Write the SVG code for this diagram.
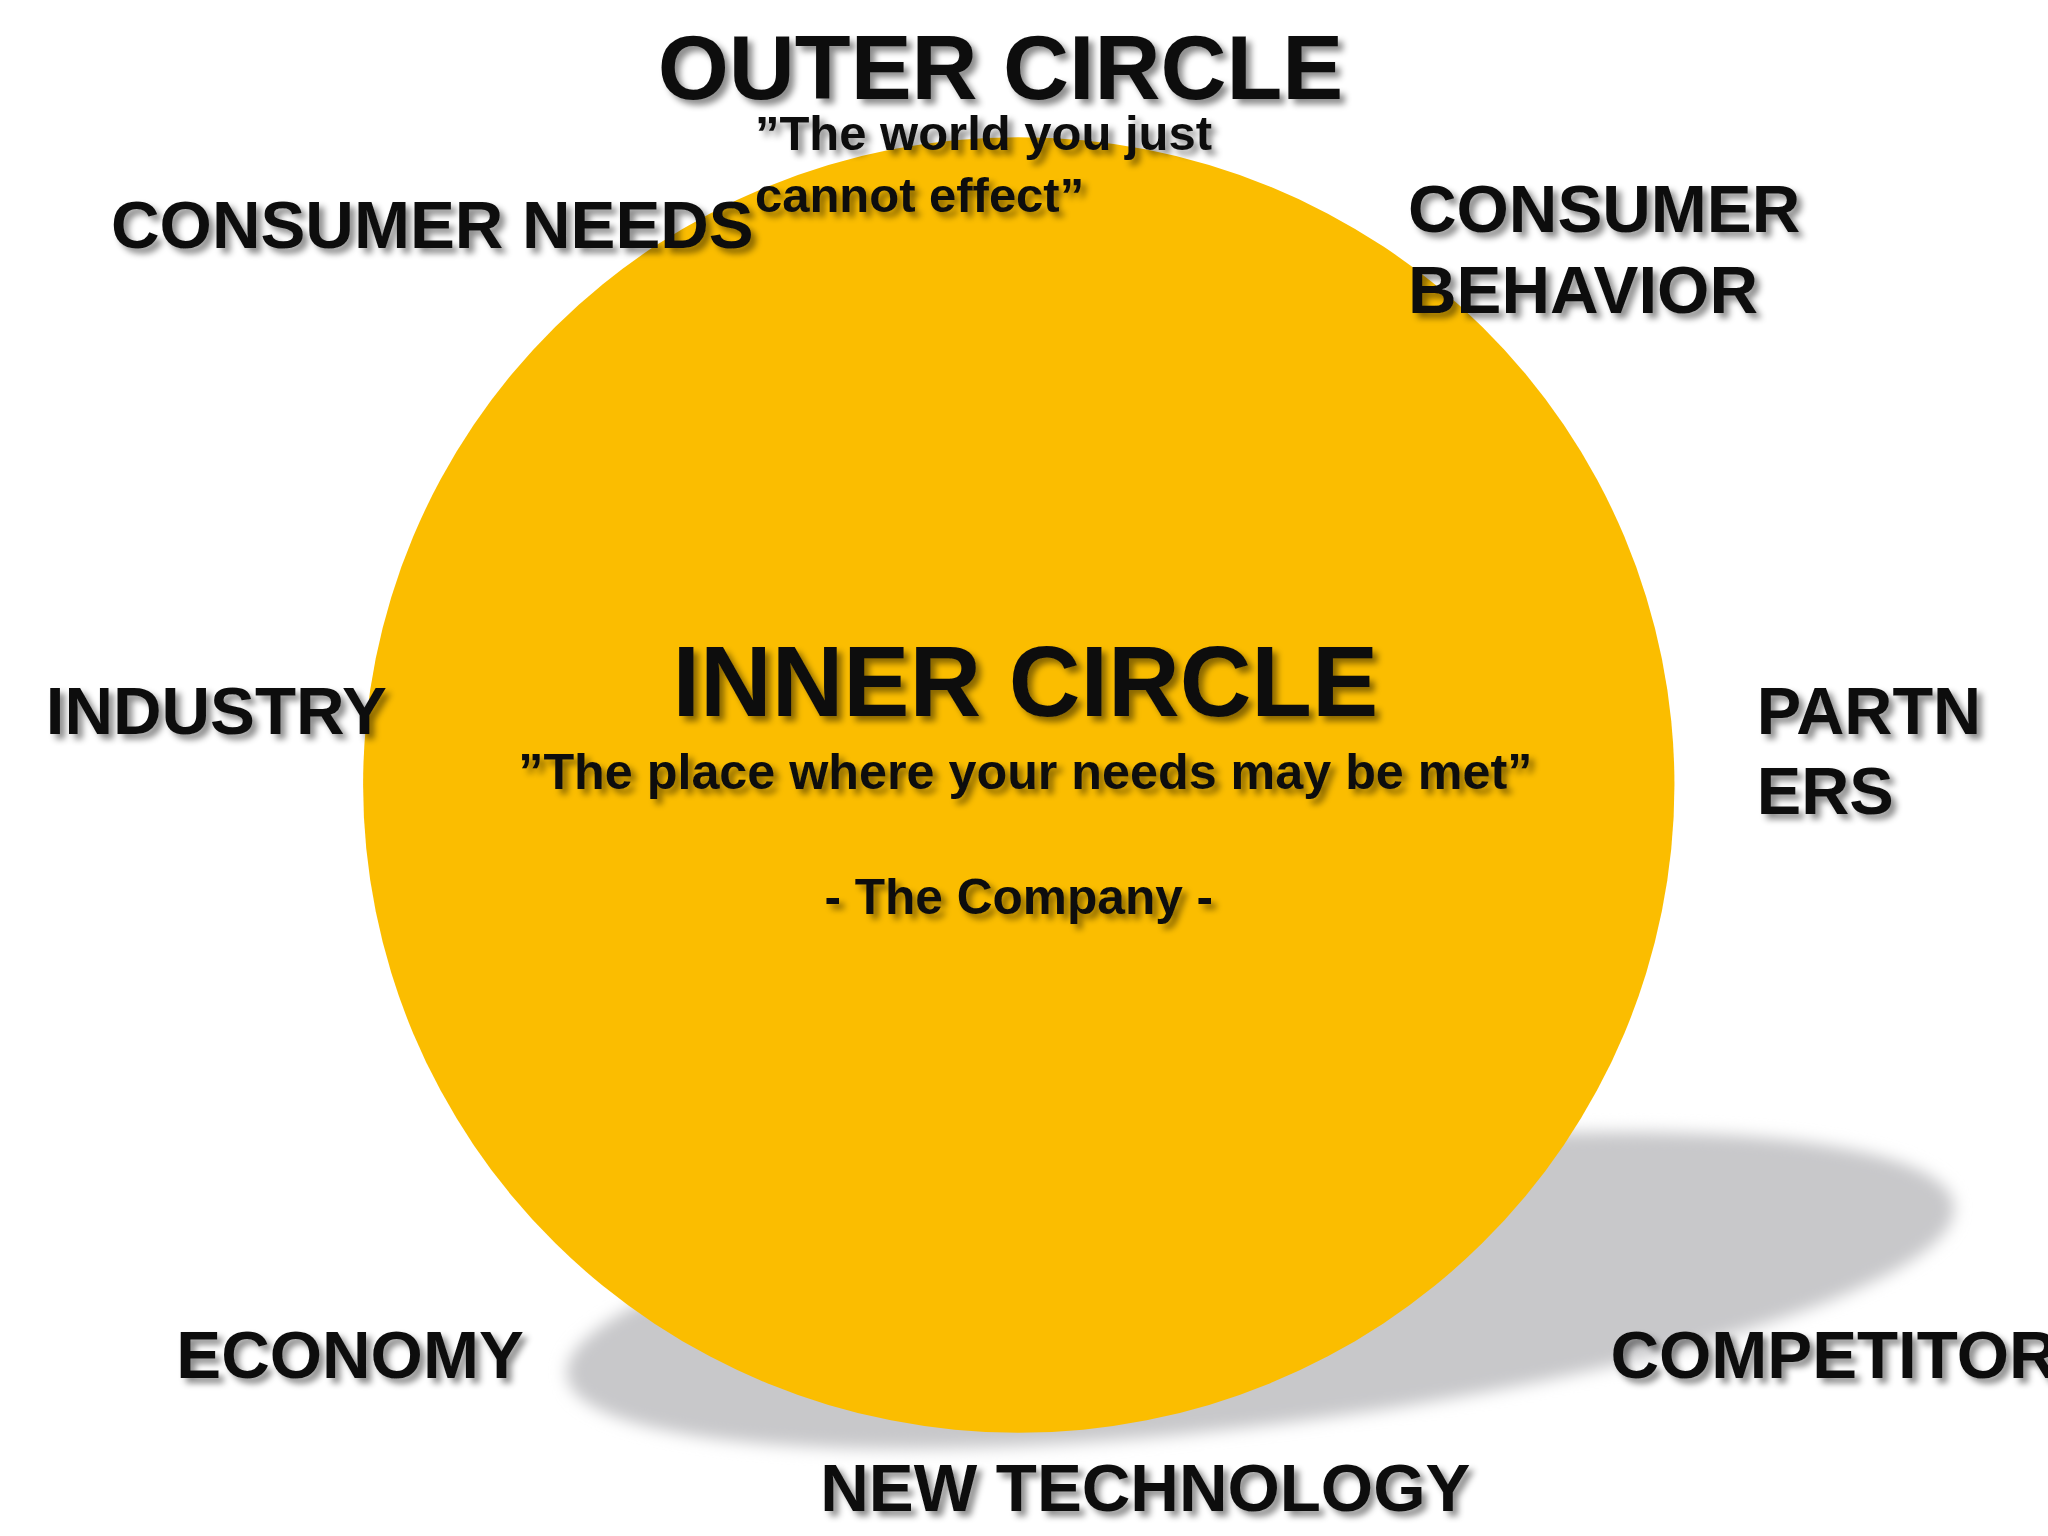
<svg xmlns="http://www.w3.org/2000/svg" width="2048" height="1536" viewBox="0 0 2048 1536">
<defs>
<filter id="ts" x="-10%" y="-30%" width="130%" height="180%"><feDropShadow dx="4" dy="4" stdDeviation="2.5" flood-color="#000" flood-opacity="0.45"/></filter>
<filter id="blur"><feGaussianBlur stdDeviation="6"/></filter>
<style>text{font-family:"Liberation Sans",Arial,sans-serif;font-weight:bold;fill:#111;filter:url(#ts)}</style>
</defs>
<rect width="2048" height="1536" fill="#fff"/>
<g transform="scale(1.30612)">
<g id="shadow"><ellipse cx="965" cy="988" rx="535" ry="103" transform="rotate(-7 965 988)" fill="#c8c8ca" filter="url(#blur)"/></g>
<g id="inner"><ellipse cx="780" cy="601" rx="502" ry="496" fill="#fbbd00"/>
<text x="785" y="548" font-size="76" text-anchor="middle">INNER CIRCLE</text>
<text x="785" y="604" font-size="38.5" text-anchor="middle">”The place where your needs may be met”</text>
<text x="780" y="700" font-size="38" text-anchor="middle">- The Company -</text></g>
<g id="outer">
<text x="766" y="76" font-size="70" text-anchor="middle">OUTER CIRCLE</text>
<text x="578" y="115" font-size="37.5">”The world you just</text>
<text x="578" y="162" font-size="37.5">cannot effect”</text></g>
<g id="needs"><text x="85" y="190" font-size="51.5">CONSUMER NEEDS</text></g>
<g id="behavior"><text x="1078" y="178" font-size="51.5">CONSUMER</text><text x="1078" y="240" font-size="51.5">BEHAVIOR</text></g>
<g id="industry"><text x="35" y="562" font-size="51.5">INDUSTRY</text></g>
<g id="partners"><text x="1345" y="562" font-size="51">PARTN</text><text x="1345" y="623" font-size="51">ERS</text></g>
<g id="economy"><text x="135" y="1055" font-size="51.5">ECONOMY</text></g>
<g id="competitor"><text x="1233" y="1055" font-size="51.5">COMPETITOR</text></g>
<g id="tech"><text x="628" y="1157" font-size="51.5">NEW TECHNOLOGY</text></g>
<g id="connectors"/>
</g>
</svg>
